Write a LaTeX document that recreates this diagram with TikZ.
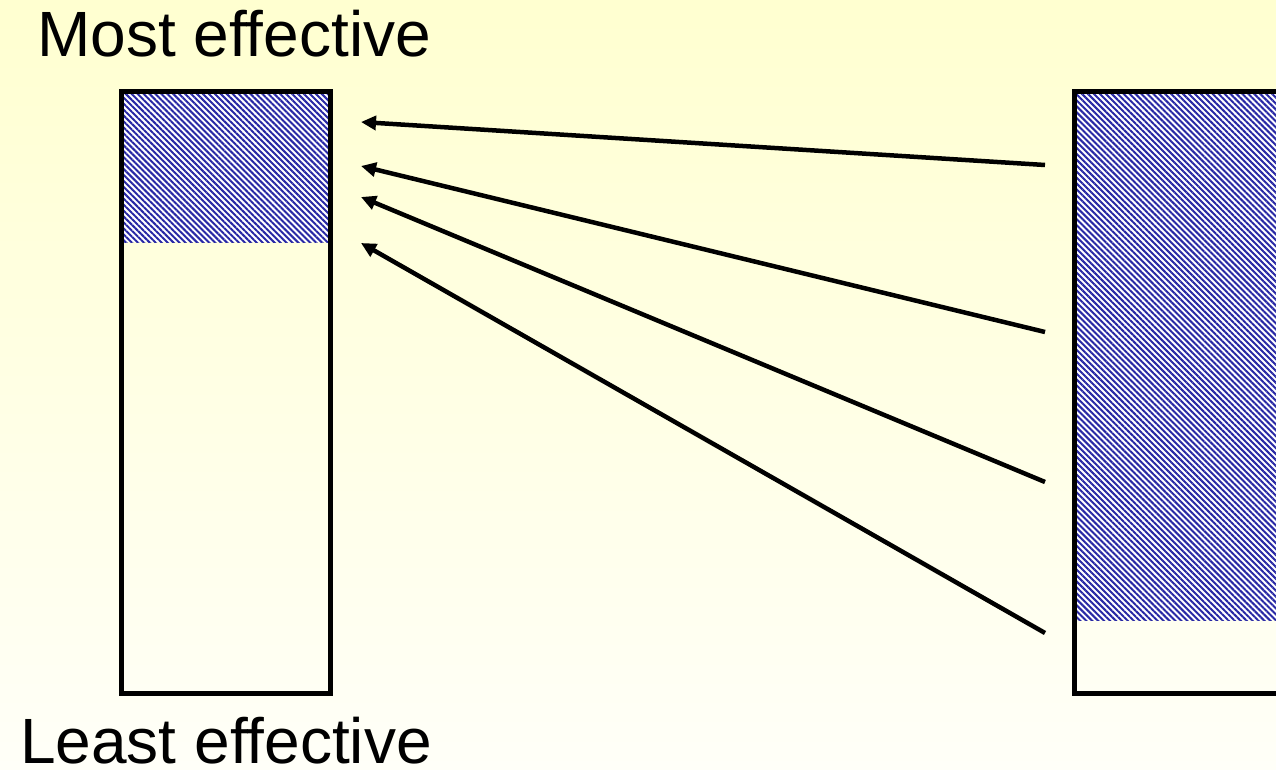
\documentclass[tikz,border=0pt]{standalone}
\usepackage{fontspec}
\setmainfont{Liberation Sans}
\usetikzlibrary{arrows.meta,patterns.meta}
\definecolor{bgtop}{RGB}{255,255,208}
\definecolor{bgbot}{RGB}{255,255,248}
\definecolor{hatch}{RGB}{40,40,165}
\tikzset{
  column/.style={draw=black, line width=5pt},
  hatched/.style={pattern={Lines[angle=-45, distance=4.2pt, line width=2pt]}, pattern color=hatch},
  pointer/.style={line width=4.5pt, -{Triangle[length=15pt,width=14pt]}},
  caption/.style={font=\fontsize{64}{70}\selectfont, anchor=base west, inner sep=0pt}
}
\begin{document}
\begin{tikzpicture}[x=1pt,y=-1pt]
  % page and background gradient
  \useasboundingbox (0,0) rectangle (1276,770);
  \shade[top color=bgtop, bottom color=bgbot] (0,0) rectangle (1276,770);

  % left column: small shaded top part
  \fill[white] (121,92) rectangle (330,242);
  \fill[hatched] (121,92) rectangle (330,242);
  \draw[column] (121,92) rectangle (330,693);

  % right column: mostly shaded
  \begin{scope}
    \clip (0,0) rectangle (1276,770);
    \fill[white] (1074,92) rectangle (1290,620);
    \fill[hatched] (1074,92) rectangle (1290,620);
    \draw[column] (1074,92) rectangle (1300,693);
  \end{scope}

  % labels
  \node[caption] (most) at (37,57) {Most effective};
  \node[caption] (least) at (20,763) {Least effective};

  % arrow end points
  \coordinate (s1) at (1045,165);
  \coordinate (s2) at (1045,332);
  \coordinate (s3) at (1045,482);
  \coordinate (s4) at (1045,633);
  \coordinate (t1) at (361,122);
  \coordinate (t2) at (361,166);
  \coordinate (t3) at (361,197);
  \coordinate (t4) at (361,243);

  \draw[pointer] (s1) -- (t1);
  \draw[pointer] (s2) -- (t2);
  \draw[pointer] (s3) -- (t3);
  \draw[pointer] (s4) -- (t4);
\end{tikzpicture}
\end{document}
